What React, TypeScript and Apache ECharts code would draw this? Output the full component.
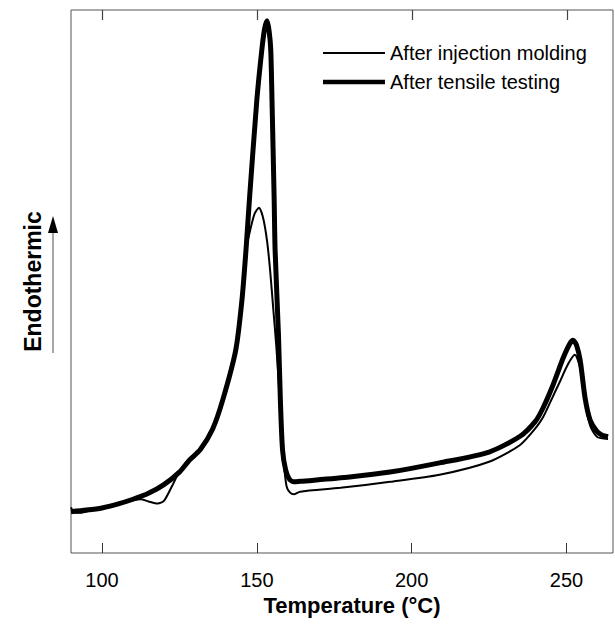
import React, { useEffect, useRef } from "react";
import * as echarts from "echarts";

const xTicks = [100, 150, 200, 250];
const seriesNames = ["After injection molding", "After tensile testing"];

const moldingX = [90, 91, 93, 96, 100, 105, 110, 112.5, 115, 118, 120, 122.6, 125, 128.4, 131.7, 135.7, 139, 143.2, 145.2, 146.5, 148, 149.3, 150.7, 152, 153.3, 154.3, 155.3, 156.3, 157.2, 158, 158.8, 159.6, 160.6, 162, 164, 177, 193, 209, 225, 235, 240, 242.4, 244.6, 247.8, 250.5, 252.7, 254.4, 256, 257.6, 259.8, 263.4];
const moldingY = [8.4, 7.5, 7.4, 7.8, 8.2, 8.9, 9.7, 9.9, 9.5, 9.1, 9.6, 12.3, 15.0, 17.5, 19.0, 22.8, 28.2, 37.4, 46.6, 55.8, 59.8, 62.5, 63.6, 61.8, 57.5, 52, 45, 38, 30, 22, 16, 12.3, 11.2, 10.8, 11.3, 12.0, 13.1, 14.4, 16.8, 19.9, 23.0, 25.0, 27.6, 31.5, 34.8, 36.5, 34.0, 27.8, 23.5, 21.4, 21.0];

const tensileX = [90, 95, 100, 105, 110, 115, 120, 125, 128.4, 131.7, 135.7, 139, 143.2, 145.2, 146.5, 147.6, 150, 151.6, 152.5, 153.3, 154.0, 154.5, 154.9, 155.6, 155.9, 157, 157.6, 158.3, 159.3, 160.5, 162, 164, 180, 193, 209, 225, 235, 240, 242.4, 245.6, 248.9, 251, 252.1, 253.2, 254.4, 256, 257.6, 259.8, 261.5, 263.4];
const tensileY = [7.6, 7.9, 8.3, 9.0, 9.9, 11.0, 12.6, 14.9, 17.2, 19.0, 22.8, 28.2, 37.4, 46.6, 55.8, 65.0, 83.4, 92.6, 96.5, 98.0, 96.0, 92.6, 83.4, 65.0, 55.8, 40, 28.2, 19.0, 15.3, 13.6, 13.1, 13.2, 14.0, 14.9, 16.6, 18.6, 21.5, 24.3, 26.7, 30.9, 35.9, 38.5, 39.2, 38.3, 35.5, 28.5, 24.5, 22.4, 21.7, 21.4];

const FONT = "Liberation Sans, Arial, sans-serif";

export default function App() {
  const ref = useRef<HTMLDivElement>(null);
  useEffect(() => {
    document.body.style.margin = "0";
    if (!ref.current) return;
    const chart = echarts.init(ref.current, null, { renderer: "svg" });
    const molding = moldingX.map((x, i) => [x, moldingY[i]]);
    const tensile = tensileX.map((x, i) => [x, tensileY[i]]);
    const baseGraphic: any[] = [
      {
        type: "line",
        shape: { x1: 53, y1: 353, x2: 53, y2: 230 },
        style: { stroke: "#888", lineWidth: 1.5 },
      },
      {
        type: "polygon",
        shape: { points: [[53, 216], [48, 233], [58, 233]] },
        style: { fill: "#000" },
      },
    ];
    chart.setOption({
      animation: false,
      backgroundColor: "#fff",
      grid: {
        left: 71,
        right: 2,
        top: 10,
        bottom: 80,
        show: true,
        borderColor: "#555",
        borderWidth: 1,
        backgroundColor: "transparent",
      },
      legend: {
        orient: "vertical",
        left: 323,
        top: 43,
        padding: 0,
        itemWidth: 62,
        itemHeight: 20,
        itemGap: 9,
        itemStyle: { borderWidth: 0 },
        data: [
          { name: seriesNames[0], icon: "path://M0,0L62,0L62,2L0,2Z" },
          { name: seriesNames[1], icon: "path://M0,0L62,0L62,4.5L0,4.5Z" },
        ],
        textStyle: { fontSize: 20, fontFamily: FONT, color: "#000", lineHeight: 20 },
      },
      xAxis: {
        type: "value",
        min: 90,
        max: 265,
        position: "bottom",
        splitLine: { show: false },
        axisLine: { show: false, onZero: false },
        name: "Temperature (°C)",
        nameLocation: "middle",
        nameGap: 37,
        nameTextStyle: {
          fontSize: 22,
          fontWeight: "bold",
          fontFamily: FONT,
          color: "#000",
          padding: [0, 0, 0, 20],
        },
        axisTick: {
          show: true,
          inside: true,
          length: 10,
          customValues: xTicks,
          lineStyle: { color: "#333" },
        },
        axisLabel: {
          show: true,
          customValues: xTicks,
          margin: 17,
          fontSize: 20,
          fontFamily: FONT,
          color: "#000",
        },
      },
      yAxis: {
        type: "value",
        min: 0,
        max: 100,
        name: "Endothermic",
        nameLocation: "middle",
        nameRotate: 90,
        nameGap: 27,
        nameTextStyle: { fontSize: 23, fontWeight: "bold", fontFamily: FONT, color: "#000" },
        axisLine: { show: false },
        axisTick: { show: false },
        axisLabel: { show: false },
        splitLine: { show: false },
      },
      graphic: baseGraphic,
      series: [
        {
          name: seriesNames[0],
          type: "line",
          data: molding,
          symbol: "none",
          smooth: 0.25,
          lineStyle: { color: "#000", width: 2 },
          itemStyle: { color: "#000" },
        },
        {
          name: seriesNames[1],
          type: "line",
          data: tensile,
          symbol: "none",
          smooth: 0.25,
          lineStyle: { color: "#000", width: 5 },
          itemStyle: { color: "#000" },
        },
      ],
    });
    // mirrored tick marks along the top frame, placed through the axis scale
    const topY = chart.convertToPixel({ yAxisIndex: 0 }, 100) as number;
    const topTicks = xTicks.map((v) => {
      const px = Math.round(chart.convertToPixel({ xAxisIndex: 0 }, v) as number) + 0.5;
      return {
        type: "line",
        z: 10,
        shape: { x1: px, y1: topY, x2: px, y2: topY + 10 },
        style: { stroke: "#444", lineWidth: 1.2 },
      };
    });
    chart.setOption({ graphic: [...baseGraphic, ...topTicks] });
    return () => chart.dispose();
  }, []);
  return <div ref={ref} style={{ width: 615, height: 633 }} />;
}
